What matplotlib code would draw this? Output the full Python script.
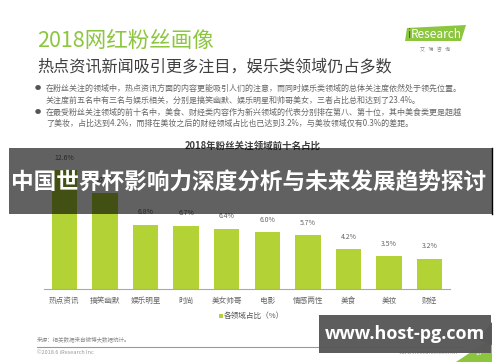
import matplotlib
matplotlib.use("Agg")
import matplotlib.pyplot as plt
from matplotlib.patches import Rectangle, Polygon

plt.rcParams['font.family'] = ['Noto Sans CJK SC', 'DejaVu Sans']

categories = ['热点资讯', '搞笑幽默', '娱乐明星', '时尚', '美女帅哥', '电影', '情感两性', '美食', '美妆', '财经']
values = [12.6, 10.2, 6.8, 6.7, 6.4, 6.0, 5.7, 4.2, 3.5, 3.2]
value_labels = ['12.6%', '10.2%', '6.8%', '6.7%', '6.4%', '6.0%', '5.7%', '4.2%', '3.5%', '3.2%']

page_title = '2018网红粉丝画像'
page_subtitle = '热点资讯新闻吸引更多注目，娱乐类领域仍占多数'
bullets = [
    ['在粉丝关注的领域中，热点资讯方面的内容更能吸引人们的注意，而同时娱乐类领域的总体关注度依然处于领先位置。',
     '关注度前五名中有三名与娱乐相关，分别是搞笑幽默、娱乐明星和帅哥美女，三者占比总和达到了23.4%。'],
    ['在最受粉丝关注领域的前十名中，美食、财经类内容作为新兴领域的代表分别排在第八、第十位，其中美食类更是超越',
     '了美妆，占比达到4.2%，而排在美妆之后的财经领域占比也已达到3.2%，与美妆领域仅有0.3%的差距。'],
]
chart_title = '2018年粉丝关注领域前十名占比'
legend_label = '各领域占比（%）'
overlay_text = '中国世界杯影响力深度分析与未来发展趋势探讨'
watermark = 'www.host-pg.com'
source_text = '来源：相关数据来自微博大数据统计。'
copyright_text = '©2018.6 iResearch Inc'
site_text = 'www.iresearch.com.cn'
page_no = '17'

GREEN = '#b2d235'
TITLE_GREEN = '#8cc63f'
DARK = '#3f3f3f'

W, H = 500, 362
fig = plt.figure(figsize=(5, 3.62), dpi=100)
fig.patch.set_facecolor('white')

# background slide axes (pixel coordinates)
bg = fig.add_axes([0, 0, 1, 1], zorder=0)
bg.set_xlim(0, W); bg.set_ylim(H, 0); bg.axis('off')

bg.text(37, 41, page_title, color=TITLE_GREEN, fontsize=15.5, va='center', ha='left', fontweight='light')
bg.text(37, 67, page_subtitle, color=DARK, fontsize=11.6, va='center', ha='left')
ys = [88, 100, 112, 123]
i = 0
for b in bullets:
    for j, line in enumerate(b):
        if j == 0:
            bg.text(38, ys[i], '●', color='#555555', fontsize=4.5, va='center', ha='center')
        bg.text(46, ys[i], line, color='#666666', fontsize=5.75, va='center', ha='left')
        i += 1

# iResearch logo
bg.add_patch(Polygon([(405, 41), (407, 28), (466, 25), (461, 41)], closed=True, color=TITLE_GREEN, lw=0))
bg.text(407, 34, 'i', color='#555555', fontsize=8.5, va='center', ha='left')
bg.text(411, 34, 'Research', color='white', fontsize=8.5, va='center', ha='left')
bg.text(435, 50, '艾   瑞   咨   询', color='#888888', fontsize=3.6, va='center', ha='center')

bg.text(253, 146, chart_title, color=DARK, fontsize=6.8, va='center', ha='center', fontweight='bold')

# legend
bg.add_patch(Rectangle((219, 314), 3.5, 3.5, color=GREEN, lw=0))
bg.text(224, 316, legend_label, color='#555555', fontsize=5.5, va='center', ha='left')

# footer
bg.text(37, 339, source_text, color='#888888', fontsize=4, va='center', ha='left')
bg.plot([37, 462], [347, 347], color='#999999', lw=0.8)
bg.text(37, 353, copyright_text, color='#999999', fontsize=4, va='center', ha='left')
bg.text(458, 353, site_text, color='#999999', fontsize=4, va='center', ha='right')
bg.add_patch(Polygon([(456, 362), (492, 338), (492, 362)], closed=True, color=TITLE_GREEN, lw=0))
bg.add_patch(Polygon([(478, 340), (492, 322), (492, 345)], closed=True, color='#2f6f73', lw=0))
bg.text(479, 353, page_no, color='white', fontsize=4.5, va='center', ha='center')

# chart axes
ax = fig.add_axes([44 / W, 73 / H, 406 / W, 14 * 9.44 / H], zorder=1)
ax.patch.set_alpha(0)
x = list(range(len(categories)))
ax.bar(x, values, width=0.63, color=GREEN)
ax.set_xlim(-0.5, len(categories) - 0.5)
ax.set_ylim(0, 14)
for xi, v, lab in zip(x, values, value_labels):
    ax.annotate(lab, (xi, v), xytext=(0, 6), textcoords='offset points',
                ha='center', va='bottom', fontsize=5, color='#666666')
ax.set_xticks(x)
ax.set_xticklabels(categories, fontsize=5.5, color='#666666')
ax.tick_params(axis='x', length=0, pad=6)
ax.set_yticks([])
for s in ['top', 'right', 'left']:
    ax.spines[s].set_visible(False)
ax.spines['bottom'].set_color('#aaaaaa')
ax.spines['bottom'].set_linewidth(0.8)

# overlays on top
ov = fig.add_axes([0, 0, 1, 1], zorder=2)
ov.set_xlim(0, W); ov.set_ylim(H, 0); ov.axis('off'); ov.patch.set_alpha(0)
ov.add_patch(Rectangle((9, 148), 483, 66, color='black', alpha=0.62, lw=0))
ov.plot([491.5, 491.5], [148, 214], color='black', lw=1)
ov.text(249, 182, overlay_text, color='white', fontsize=16.3, fontweight='bold', va='center', ha='center')
ov.add_patch(Rectangle((319, 315), 172, 38, color='#585858', alpha=0.97, lw=0))
ov.text(405, 334, watermark, color='white', fontsize=13, fontweight='bold', va='center', ha='center',
        family=['Open Sans', 'DejaVu Sans'])

fig.savefig('out.png', dpi=100, facecolor='white')
